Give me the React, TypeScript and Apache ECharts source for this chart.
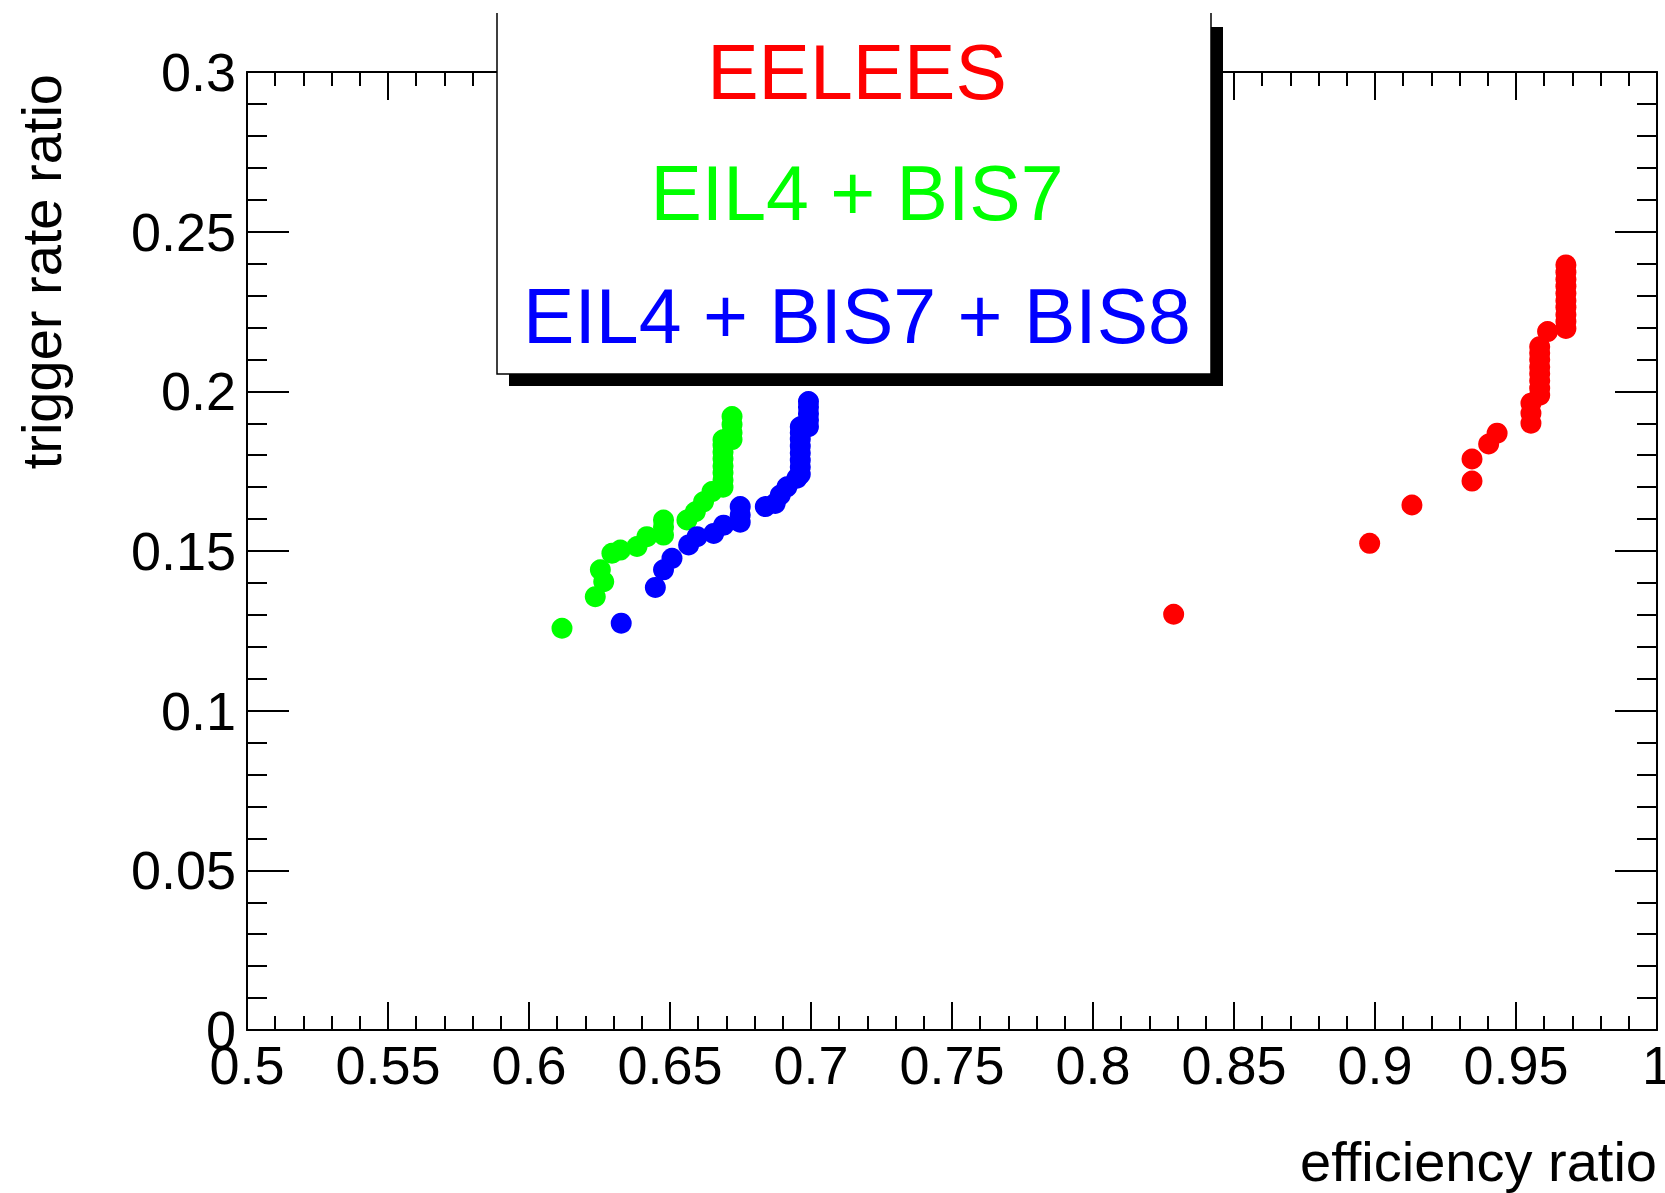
import React, { useEffect, useRef } from "react";
import * as echarts from "echarts";

// ---- Data ----
const X_MIN = 0.5;
const X_MAX = 1.0;
const X_STEP = 0.05;
const Y_MIN = 0;
const Y_MAX = 0.3;
const Y_STEP = 0.05;

const xTickLabels = ["0.5", "0.55", "0.6", "0.65", "0.7", "0.75", "0.8", "0.85", "0.9", "0.95", "1"];
const yTickLabels = ["0", "0.05", "0.1", "0.15", "0.2", "0.25", "0.3"];

const xTitle = "efficiency ratio";
const yTitle = "trigger rate ratio";

const seriesNames = ["EELEES", "EIL4 + BIS7", "EIL4 + BIS7 + BIS8"];
const seriesColors = ["#ff0000", "#00ff00", "#0000ff"];

const eelees = [
  [0.8286, 0.1302],
  [0.8981, 0.1524],
  [0.9131, 0.1644],
  [0.9344, 0.1719],
  [0.9344, 0.1788],
  [0.9403, 0.1835],
  [0.9433, 0.1869],
  [0.9553, 0.19],
  [0.9553, 0.1931],
  [0.9553, 0.1963],
  [0.9584, 0.1988],
  [0.9584, 0.201],
  [0.9584, 0.2033],
  [0.9584, 0.2055],
  [0.9584, 0.2076],
  [0.9584, 0.2099],
  [0.9584, 0.212],
  [0.9584, 0.214],
  [0.9612, 0.2187],
  [0.9677, 0.2197],
  [0.9677, 0.2219],
  [0.9677, 0.224],
  [0.9677, 0.2263],
  [0.9677, 0.2284],
  [0.9677, 0.2306],
  [0.9677, 0.2329],
  [0.9677, 0.235],
  [0.9677, 0.2373],
  [0.9677, 0.2396],
];

const eil4Bis7 = [
  [0.6117, 0.1258],
  [0.6235, 0.1357],
  [0.6265, 0.1404],
  [0.6253, 0.1441],
  [0.6294, 0.1493],
  [0.6324, 0.1503],
  [0.6383, 0.1514],
  [0.6418, 0.1545],
  [0.6477, 0.155],
  [0.6477, 0.1575],
  [0.6477, 0.1597],
  [0.656, 0.1597],
  [0.659, 0.1623],
  [0.6619, 0.1654],
  [0.6649, 0.1686],
  [0.6688, 0.17],
  [0.6688, 0.1722],
  [0.6688, 0.1745],
  [0.6688, 0.1766],
  [0.6688, 0.1789],
  [0.6688, 0.181],
  [0.6688, 0.1831],
  [0.6688, 0.1848],
  [0.672, 0.1849],
  [0.672, 0.187],
  [0.672, 0.1896],
  [0.672, 0.1921],
];

const eil4Bis7Bis8 = [
  [0.6327, 0.1274],
  [0.6448, 0.1386],
  [0.6477, 0.1441],
  [0.6507, 0.1477],
  [0.6566, 0.1519],
  [0.6596, 0.1545],
  [0.6655, 0.1555],
  [0.669, 0.1581],
  [0.6749, 0.159],
  [0.6749, 0.1613],
  [0.6749, 0.1639],
  [0.6838, 0.1639],
  [0.6873, 0.1649],
  [0.6891, 0.1675],
  [0.6915, 0.1701],
  [0.695, 0.1728],
  [0.6962, 0.174],
  [0.6962, 0.1763],
  [0.6962, 0.1784],
  [0.6962, 0.1807],
  [0.6962, 0.1828],
  [0.6962, 0.185],
  [0.6962, 0.187],
  [0.6962, 0.1889],
  [0.6991, 0.1889],
  [0.6991, 0.191],
  [0.6991, 0.193],
  [0.6991, 0.1951],
  [0.6991, 0.1968],
];

const seriesData = [eelees, eil4Bis7, eil4Bis7Bis8];

const FONT = "'Liberation Sans', Arial, Helvetica, sans-serif";

export default function App() {
  const ref = useRef<HTMLDivElement>(null);

  useEffect(() => {
    if (!ref.current) return;
    const chart = echarts.init(ref.current, undefined, { renderer: "svg" });

    const axisLine = { show: true, onZero: false, lineStyle: { color: "#000", width: 2 } };

    const xFormatter = (v: number) => xTickLabels[Math.round((v - X_MIN) / X_STEP)] ?? "";
    const yFormatter = (v: number) => yTickLabels[Math.round((v - Y_MIN) / Y_STEP)] ?? "";

    const xAxisBase = (position: "bottom" | "top", showLabel: boolean) => ({
      type: "value",
      position,
      min: X_MIN,
      max: X_MAX,
      interval: X_STEP,
      axisLine,
      axisTick: { show: true, inside: true, length: 28, lineStyle: { color: "#000", width: 2 } },
      minorTick: { show: true, splitNumber: 5, length: 14, lineStyle: { color: "#000", width: 2 } },
      splitLine: { show: false },
      minorSplitLine: { show: false },
      axisLabel: {
        show: showLabel,
        margin: 8,
        color: "#000",
        fontSize: 54,
        fontFamily: FONT,
        formatter: xFormatter,
        hideOverlap: false,
      },
    });

    const yAxisBase = (position: "left" | "right", showLabel: boolean) => ({
      type: "value",
      position,
      min: Y_MIN,
      max: Y_MAX,
      interval: Y_STEP,
      axisLine,
      axisTick: { show: true, inside: true, length: 42, lineStyle: { color: "#000", width: 2 } },
      minorTick: { show: true, splitNumber: 5, length: 20, lineStyle: { color: "#000", width: 2 } },
      splitLine: { show: false },
      minorSplitLine: { show: false },
      axisLabel: {
        show: showLabel,
        margin: 11,
        color: "#000",
        fontSize: 54,
        fontFamily: FONT,
        formatter: yFormatter,
        hideOverlap: false,
      },
    });

    const legendLeft = 497;
    const legendRight = 1211;
    const legendTop = 13;
    const legendBottom = 374;
    const legendCx = 857;
    const legendFont = 77;
    const legendBaselines = [99, 220, 343];

    const option: any = {
      animation: false,
      backgroundColor: "#ffffff",
      grid: {
        left: 247,
        right: 8,
        top: 72,
        bottom: 163,
        containLabel: false,
        outerBoundsMode: "none",
      },
      xAxis: [xAxisBase("bottom", true), xAxisBase("top", false)],
      yAxis: [yAxisBase("left", true), yAxisBase("right", false)],
      series: seriesData.map((d, i) => ({
        name: seriesNames[i],
        type: "scatter",
        xAxisIndex: 0,
        yAxisIndex: 0,
        symbol: "circle",
        symbolSize: 21,
        itemStyle: { color: seriesColors[i], opacity: 1 },
        emphasis: { disabled: true },
        data: d,
        z: 3 + i,
      })),
      graphic: [
        {
          type: "text",
          x: 1657,
          y: 1161,
          style: {
            text: xTitle,
            fill: "#000",
            font: `56px ${FONT}`,
            align: "right",
            verticalAlign: "middle",
          },
          z: 10,
        },
        {
          type: "text",
          x: 41,
          y: 74,
          rotation: Math.PI / 2,
          style: {
            text: yTitle,
            fill: "#000",
            font: `56px ${FONT}`,
            align: "right",
            verticalAlign: "middle",
          },
          z: 10,
        },
        {
          type: "rect",
          shape: {
            x: legendLeft + 12,
            y: legendTop + 14,
            width: legendRight - legendLeft,
            height: legendBottom - legendTop - 2,
          },
          style: { fill: "#000" },
          z: 20,
        },
        {
          type: "rect",
          shape: {
            x: legendLeft,
            y: legendTop,
            width: legendRight - legendLeft,
            height: legendBottom - legendTop,
          },
          style: { fill: "#fff" },
          z: 21,
        },
        {
          type: "polyline",
          shape: {
            points: [
              [legendLeft, legendTop],
              [legendLeft, legendBottom],
              [legendRight, legendBottom],
              [legendRight, legendTop],
            ],
          },
          style: { stroke: "#000", lineWidth: 1.5, fill: null },
          z: 22,
        },
        ...seriesNames.map((name, i) => ({
          type: "text",
          x: legendCx,
          y: legendBaselines[i] - 26.7,
          style: {
            text: name,
            fill: seriesColors[i],
            font: `${legendFont}px ${FONT}`,
            align: "center",
            verticalAlign: "middle",
          },
          z: 23,
        })),
      ],
    };

    chart.setOption(option);
    return () => {
      chart.dispose();
    };
  }, []);

  return (
    <div
      ref={ref}
      style={{ position: "fixed", left: 0, top: 0, width: 1665, height: 1193, background: "#fff" }}
    />
  );
}
